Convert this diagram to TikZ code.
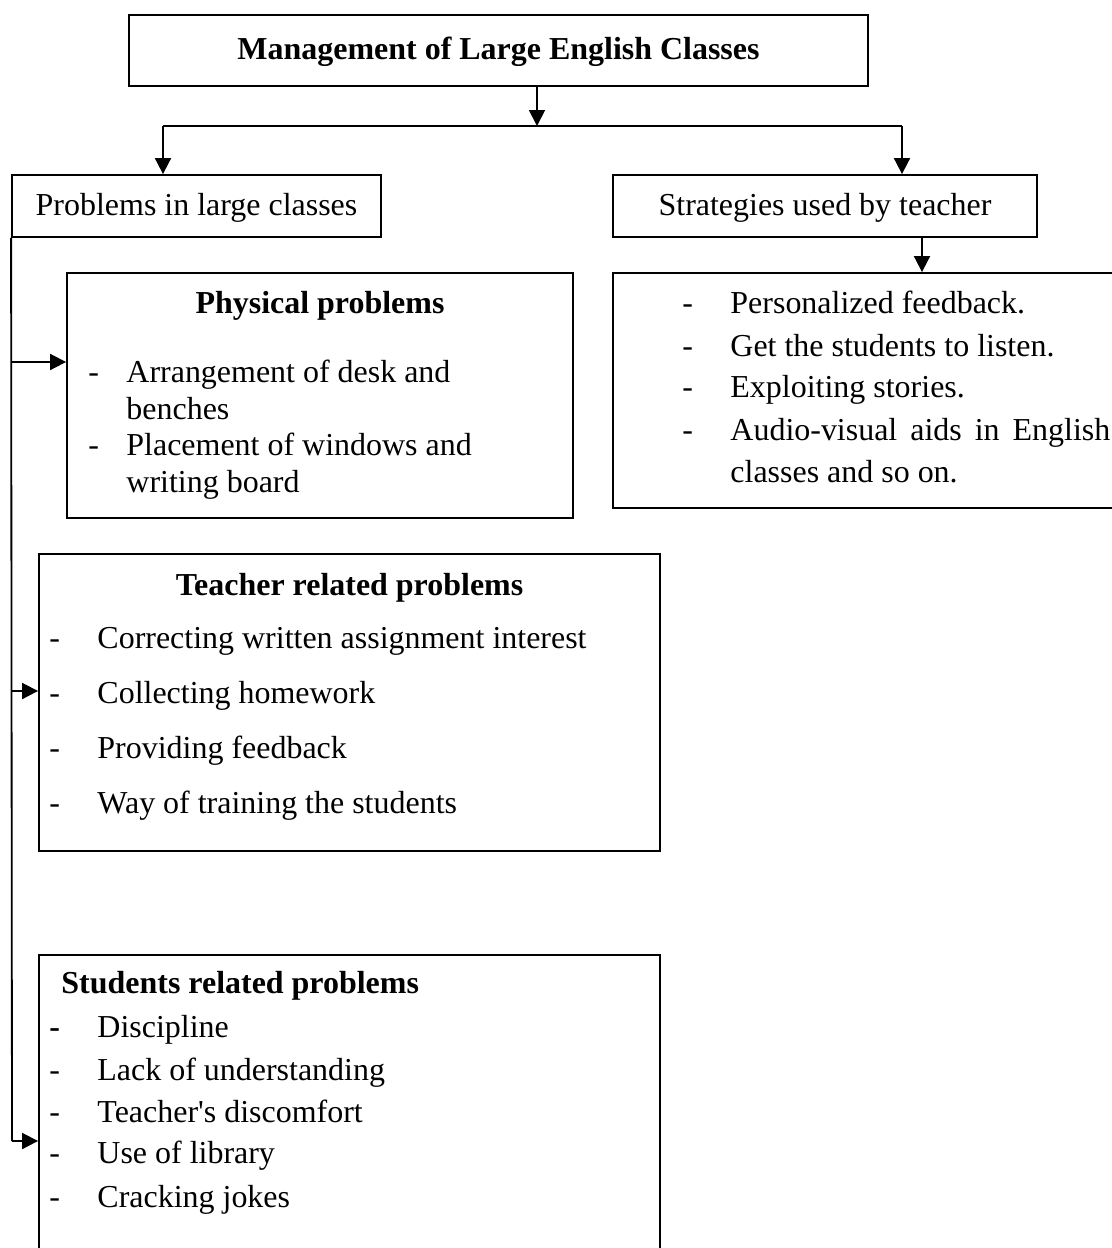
\documentclass[tikz,border=0pt]{standalone}
\usepackage{fontspec}
\setmainfont{Liberation Serif}
\usetikzlibrary{arrows.meta,fit}
\begin{document}
\begin{tikzpicture}[x=0.438pt,y=-0.438pt,
  box/.style={draw, line width=0.8pt, inner sep=0pt},
  tbox/.style={draw, line width=1.2pt, inner sep=0pt},
  arr/.style={line width=0.8pt, -{Triangle[length=7pt,width=7pt]}},
  ln/.style={line width=0.8pt},
  txt/.style={font=\fontsize{14}{17}\selectfont, inner sep=0pt, anchor=base west},
  ctxt/.style={font=\fontsize{14}{17}\selectfont, inner sep=0pt, anchor=base},
  btxt/.style={font=\fontsize{14}{17}\selectfont\bfseries, inner sep=0pt, anchor=base}]
\useasboundingbox (0,0) rectangle (1112,1248);

% boxes
\node[tbox, fit={(129,15) (868,86)}] (title) {};
\node[box, fit={(12,175) (381,237)}] (prob) {};
\node[box, fit={(613,175) (1037,237)}] (strat) {};
\node[box, fit={(613,273) (1130,508)}] (stratlist) {};
\node[box, fit={(67,273) (573,518)}] (phys) {};
\node[box, fit={(39,554) (660,851)}] (teach) {};
\node[box, fit={(39,955) (660,1265)}] (stud) {};

% headings
\node[btxt] (tt) at (498.5,59) {Management of Large English Classes};
\node[ctxt] (tprob) at (196.5,215) {Problems in large classes};
\node[ctxt] (tstrat) at (825,215) {Strategies used by teacher};

% strategies list
\node[txt] (sd1) at (682,313) {-};
\node[txt] (s1) at (730,313) {Personalized feedback.};
\node[txt] (sd2) at (682,356) {-};
\node[txt] (s2) at (730,356) {Get the students to listen.};
\node[txt] (sd3) at (682,397) {-};
\node[txt] (s3) at (730,397) {Exploiting stories.};
\node[txt] (sd4) at (682,440) {-};
\node[txt] (s4) at (730,440) {\makebox[166.4pt][s]{Audio-visual aids in English}};
\node[txt] (s5) at (730,482) {classes and so on.};

% physical problems
\node[btxt] (ph) at (320,313) {Physical problems};
\node[txt] (pd1) at (88,382) {-};
\node[txt] (p1) at (126,382) {Arrangement of desk and};
\node[txt] (p2) at (126,419) {benches};
\node[txt] (pd2) at (88,455) {-};
\node[txt] (p3) at (126,455) {Placement of windows and};
\node[txt] (p4) at (126,492) {writing board};

% teacher related problems
\node[btxt] (th) at (349.5,595) {Teacher related problems};
\node[txt] (td1) at (49,648) {-};
\node[txt] (t1) at (97,648) {Correcting written assignment interest};
\node[txt] (td2) at (49,703) {-};
\node[txt] (t2) at (97,703) {Collecting homework};
\node[txt] (td3) at (49,758) {-};
\node[txt] (t3) at (97,758) {Providing feedback};
\node[txt] (td4) at (49,813) {-};
\node[txt] (t4) at (97,813) {Way of training the students};

% students related problems
\node[txt, font=\fontsize{14}{17}\selectfont\bfseries] (sh) at (61,993) {Students related problems};
\node[txt, font=\fontsize{14}{17}\selectfont\bfseries] (ud1) at (49,1037) {-};
\node[txt] (u1) at (97,1037) {Discipline};
\node[txt] (ud2) at (49,1080) {-};
\node[txt] (u2) at (97,1080) {Lack of understanding};
\node[txt] (ud3) at (49,1122) {-};
\node[txt] (u3) at (97,1122) {Teacher\textquotesingle s discomfort};
\node[txt] (ud4) at (49,1163) {-};
\node[txt] (u4) at (97,1163) {Use of library};
\node[txt] (ud5) at (49,1207) {-};
\node[txt] (u5) at (97,1207) {Cracking jokes};

% connectors
\coordinate (j) at (537,126);
\coordinate (jl) at (163,126);
\coordinate (jr) at (902,126);
\coordinate (s0) at (922,237);
\coordinate (b1) at (12,362);
\coordinate (b2) at (12,691);
\coordinate (b3) at (12,1141);

\draw[arr] (j |- title.south) -- (j);
\draw[ln] (jl) -- (jr);
\draw[arr] (jl) -- (jl |- prob.north);
\draw[arr] (jr) -- (jr |- strat.north);
\draw[arr] (s0) -- (s0 |- stratlist.north);
\draw[ln] (prob.south west) -- (b3);
\draw[arr] (b1) -- (b1 -| phys.west);
\draw[arr] (b2) -- (b2 -| teach.west);
\draw[arr] (b3) -- (b3 -| stud.west);
\end{tikzpicture}
\end{document}
